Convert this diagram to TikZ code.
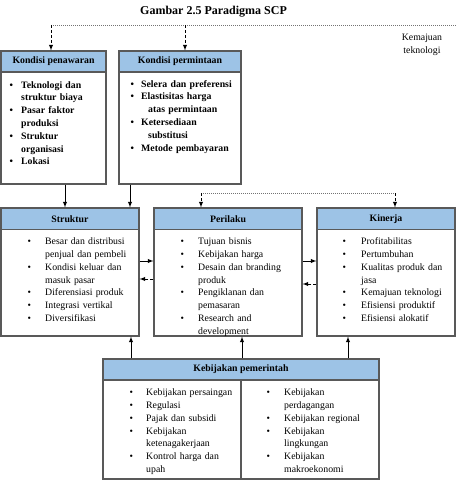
\documentclass[tikz,border=0pt]{standalone}
\usepackage{fontspec}
\setmainfont{Liberation Serif}
\usetikzlibrary{arrows}
\definecolor{headblue}{RGB}{157,195,230}
\newlength{\itmind}
\newcommand{\itm}[2][0pt]{\noindent\hangindent=\dimexpr\itmind+#1\relax\hangafter=1\makebox[\itmind][l]{\strut\textbullet}#2\par}
\tikzset{
	txt/.style={font=\fontsize{9.8}{12.8}\selectfont},
	panel/.style={draw=black!65, line width=1.1pt, rectangle, inner sep=0pt, fill=white},
	head/.style={panel, fill=headblue, font=\fontsize{9.8}{12.8}\selectfont\bfseries, minimum height=21},
	list/.style={txt, align=left, inner sep=0pt, anchor=north west},
	dotline/.style={black!55, line width=0.6pt, dash pattern=on 1pt off 1pt},
	fb/.style={->, line width=0.9pt, dash pattern=on 3pt off 2pt},
	ar/.style={->, line width=0.9pt},
	>=latex
}

\begin{document}
\begin{tikzpicture}[x=1pt,y=-1pt]
	\useasboundingbox (0,0) rectangle (456,484);
	\node[font=\fontsize{12}{14}\selectfont\bfseries] (title) at (213.5,12) {Gambar 2.5 Paradigma SCP};
	\node[txt, align=center] (tek) at (422,45) {Kemajuan\\teknologi};
	% kondisi dasar
	\node[panel, minimum width=105, minimum height=133] (pen) at (53.5,117.5) {};
	\node[head, minimum width=105, anchor=north] (penh) at (pen.north) {Kondisi penawaran};
	\node[list, font=\fontsize{9.8}{12.8}\selectfont\bfseries, text width=95] (penl) at (9.3,79) {\setlength{\itmind}{11.7pt}%
		\itm{Teknologi dan\newline struktur biaya}
		\itm{Pasar faktor\newline produksi}
		\itm{Struktur\newline organisasi}
		\itm{Lokasi}};
	\node[panel, minimum width=122, minimum height=133] (perm) at (180,117.5) {};
	\node[head, minimum width=122, anchor=north] (permh) at (perm.north) {Kondisi permintaan};
	\node[list, font=\fontsize{9.8}{12.8}\selectfont\bfseries, text width=109] (perml) at (130.3,78) {\setlength{\itmind}{10.7pt}%
		\itm{Selera dan preferensi}
		\itm[7pt]{Elastisitas harga\newline atas permintaan}
		\itm[7pt]{Ketersediaan\newline substitusi}
		\itm{Metode pembayaran}};
	% struktur - perilaku - kinerja
	\node[panel, minimum width=138, minimum height=128] (str) at (70,272) {};
	\node[head, minimum width=138, minimum height=21.5, anchor=north] (strh) at (str.north) {Struktur};
	\node[list, text width=110] (strl) at (27.3,235.5) {\setlength{\itmind}{17.7pt}%
		\itm{Besar dan distribusi\newline penjual dan pembeli}
		\itm{Kondisi keluar dan\newline masuk pasar}
		\itm{Diferensiasi produk}
		\itm{Integrasi vertikal}
		\itm{Diversifikasi}};
	\node[panel, minimum width=148, minimum height=128] (per) at (228,272) {};
	\node[head, minimum width=148, minimum height=21.5, anchor=north] (perh) at (per.north) {Perilaku};
	\node[list, text width=120] (perl) at (180.3,235.5) {\setlength{\itmind}{17.7pt}%
		\itm{Tujuan bisnis}
		\itm{Kebijakan harga}
		\itm{Desain dan branding\newline produk}
		\itm{Pengiklanan dan\newline pemasaran}
		\itm{Research and\newline development}};
	\node[panel, minimum width=138, minimum height=128] (kin) at (386,272) {};
	\node[head, minimum width=138, minimum height=21.5, anchor=north] (kinh) at (kin.north) {Kinerja};
	\node[list, text width=111] (kinl) at (342.3,235.5) {\setlength{\itmind}{18.7pt}%
		\itm{Profitabilitas}
		\itm{Pertumbuhan}
		\itm{Kualitas produk dan\newline jasa}
		\itm{Kemajuan teknologi}
		\itm{Efisiensi produktif}
		\itm{Efisiensi alokatif}};
	% kebijakan
	\node[panel, minimum width=276, minimum height=120] (keb) at (241,419) {};
	\node[head, minimum width=276, anchor=north] (kebh) at (keb.north) {Kebijakan pemerintah};
	\draw[draw=black!65, line width=1.1pt] (kebh.south) -- (keb.south);
	\node[list, text width=110] (kebl) at (129.3,386.5) {\setlength{\itmind}{16.7pt}%
		\itm{Kebijakan persaingan}
		\itm{Regulasi}
		\itm{Pajak dan subsidi}
		\itm{Kebijakan\newline ketenagakerjaan}
		\itm{Kontrol harga dan\newline upah}};
	\node[list, text width=111] (kebr) at (266.3,386.5) {\setlength{\itmind}{17.7pt}%
		\itm{Kebijakan\newline perdagangan}
		\itm{Kebijakan regional}
		\itm{Kebijakan\newline lingkungan}
		\itm{Kebijakan\newline makroekonomi}};
	% panah
	\coordinate (t1) at (51,25);
	\coordinate (t2) at (185,25);
	\coordinate (t3) at (456,25);
	\draw[dotline] (t1) -- (t3);
	\draw[fb] (t1) -- (t1 |- penh.north);
	\draw[fb] (t2) -- (t2 |- permh.north);
	\draw[ar] ([xshift=11.5pt]pen.south) -- ([xshift=-5pt]str.north);
	\draw[ar] ([xshift=-50pt]perm.south) -- ([xshift=60pt]str.north);
	\coordinate (d1) at (201,193);
	\coordinate (d2) at (395,193);
	\draw[dotline] (d1) -- (d2);
	\draw[fb] (d1) -- (d1 |- perh.north);
	\draw[fb] (d2) -- (d2 |- kinh.north);
	\draw[ar] ([yshift=11pt]str.east) -- ([yshift=11pt]per.west);
	\draw[fb] ([yshift=-7pt]per.west) -- ([yshift=-7pt]str.east);
	\draw[ar] ([yshift=11pt]per.east) -- ([yshift=11pt]kin.west);
	\draw[fb] ([yshift=-12pt]kin.west) -- ([yshift=-12pt]per.east);
	\draw[ar] ([xshift=-110pt]keb.north) -- ([xshift=61pt]str.south);
	\draw[ar] ([xshift=1pt]keb.north) -- ([xshift=14pt]per.south);
	\draw[ar] ([xshift=107pt]keb.north) -- ([xshift=-38pt]kin.south);
\end{tikzpicture}
\end{document}
